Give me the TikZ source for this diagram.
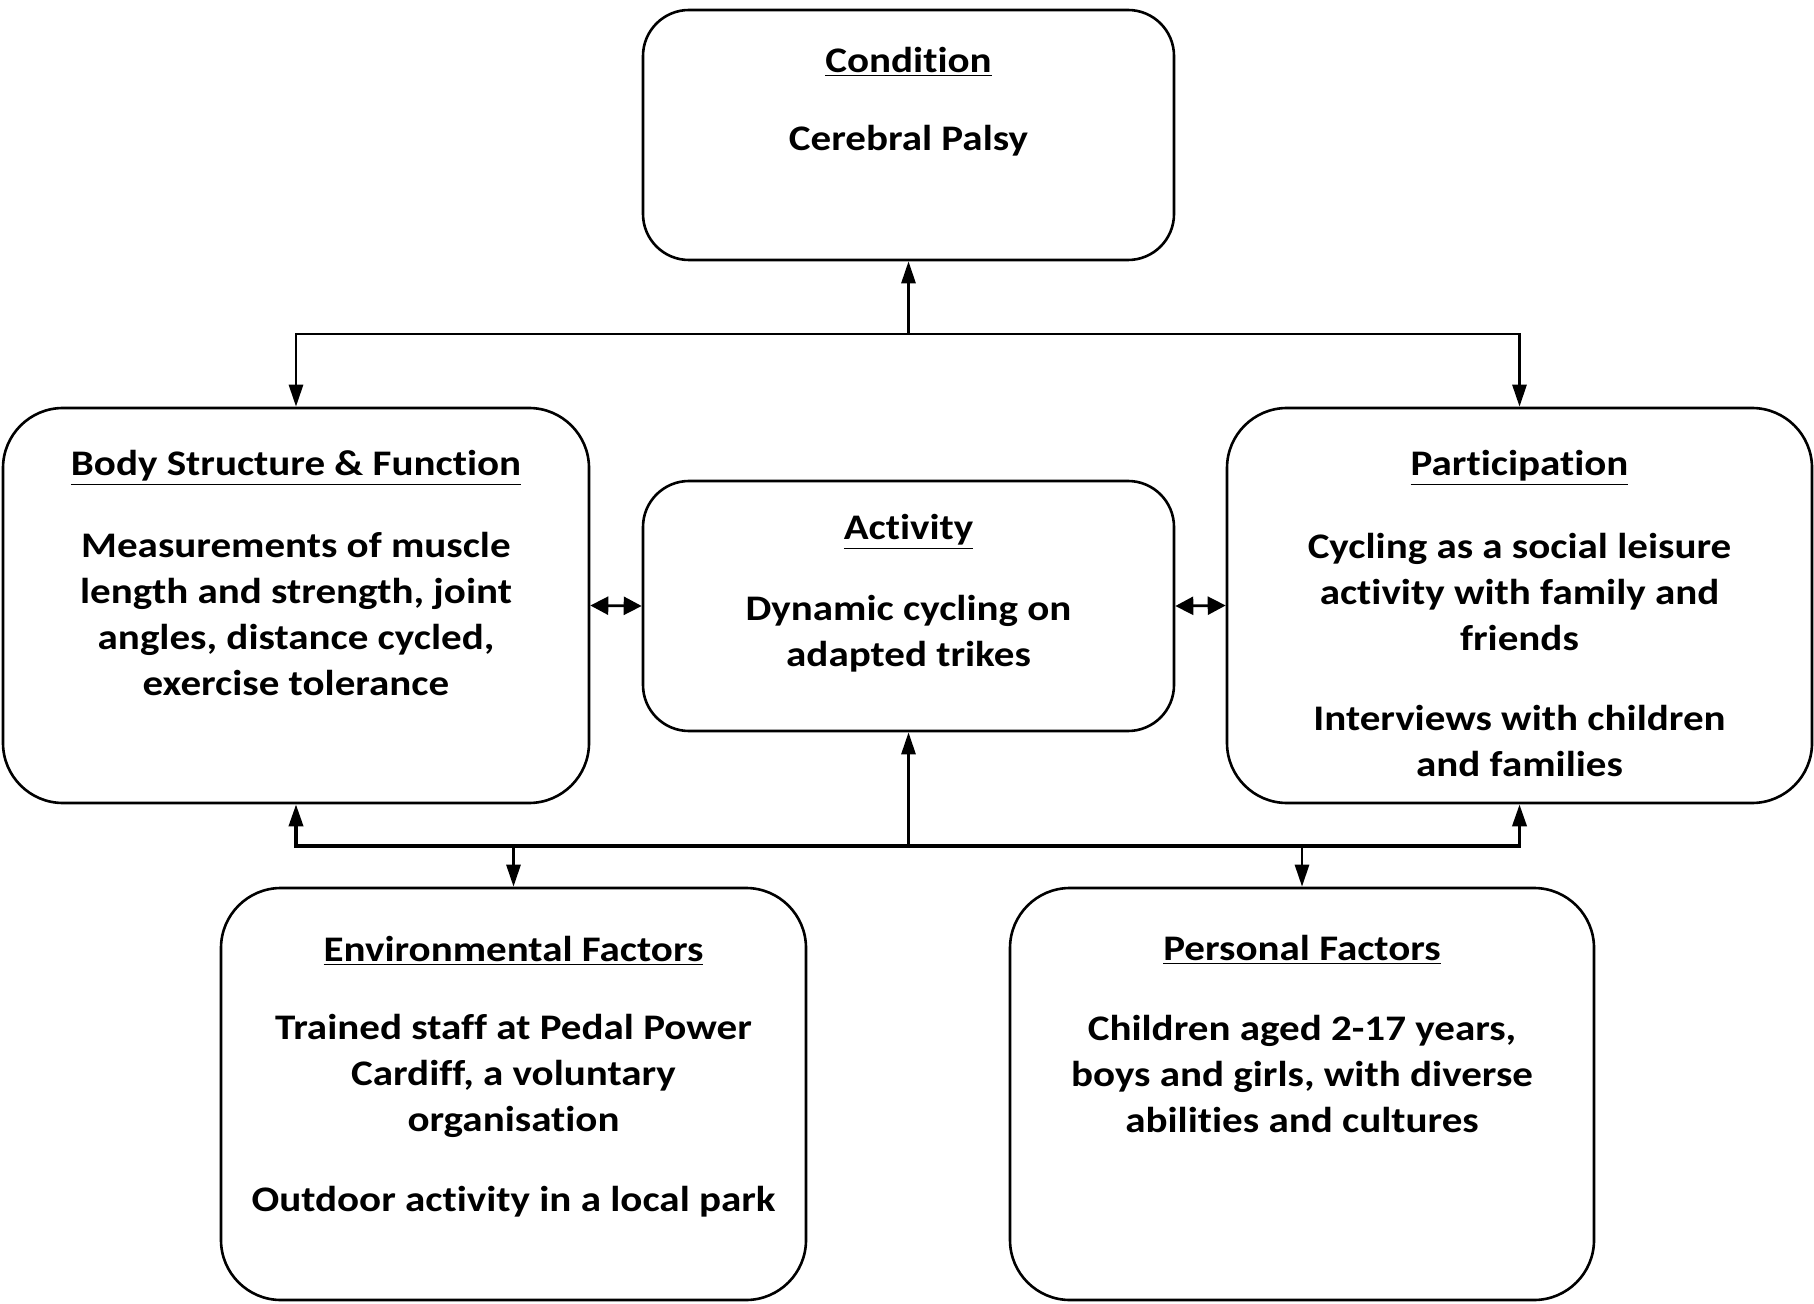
\documentclass[tikz,border=0pt]{standalone}
\usepackage{fontspec}
\setmainfont[FakeStretch=1.14,Ligatures=NoCommon]{Carlito}
\usetikzlibrary{arrows.meta}
\begin{document}
\begin{tikzpicture}[x=0.5pt,y=-0.5pt,
  box/.style={draw, line width=1.3pt, rounded corners=#1, inner sep=0pt},
  box/.default=23pt,
  txt/.style={align=center, inner sep=0pt, font=\fontsize{18}{23}\selectfont\bfseries},
  conn/.style={line width=1.4pt},
  arr/.style={conn, -{Triangle[length=11pt,width=7pt]}},
  dbl/.style={conn, {Triangle[length=9pt,width=9pt]}-{Triangle[length=9pt,width=9pt]}},
  ]
\useasboundingbox (0,0) rectangle (1814,1304);

% boxes
\node[box, minimum width=265.5pt, minimum height=125pt] (cond) at (908.5,135) {};
\node[box=30pt, minimum width=293pt, minimum height=197.5pt] (body) at (296,605.5) {};
\node[box, minimum width=265.5pt, minimum height=125pt] (act) at (908.5,606) {};
\node[box=30pt, minimum width=292.5pt, minimum height=197.5pt] (part) at (1519.5,605.5) {};
\node[box=30pt, minimum width=292.5pt, minimum height=206pt] (env) at (513.5,1094) {};
\node[box=30pt, minimum width=292pt, minimum height=206pt] (pers) at (1302,1094) {};

% texts
\node[txt] (condh) at (908.5,62) {\underline{Condition}};
\node[txt] (condt) at (908.5,141) {Cerebral Palsy};

\node[txt] (bodyh) at (296,468) {\underline{Body Structure \& Function}};
\node[txt] (bodyt) at (296,614) {Measurements of muscle\\length and strength, joint\\angles, distance cycled,\\exercise tolerance};

\node[txt] (acth) at (908.5,532) {\underline{Activity}};
\node[txt] (actt) at (908.5,634) {Dynamic cycling on\\adapted trikes};

\node[txt] (parth) at (1519.5,468) {\underline{Participation}};
\node[txt] (partt) at (1519.5,655) {Cycling as a social leisure\\activity with family and\\friends\\[17pt]Interviews with children\\and families};

\node[txt] (envh) at (513.5,951) {\underline{Environmental Factors}};
\node[txt] (envt) at (513.5,1116) {Trained staff at Pedal Power\\Cardiff, a voluntary\\organisation\\[17pt]Outdoor activity in a local park};

\node[txt] (persh) at (1302,950) {\underline{Personal Factors}};
\node[txt] (perst) at (1302,1074) {Children aged 2-17 years,\\boys and girls, with diverse\\abilities and cultures};

% top connectors
\coordinate (tj) at (908.5,334);
\draw[arr] (tj) -- (cond.south);
\draw[arr] (tj) -| (body.north);
\draw[arr] (tj) -| (part.north);

% side double arrows
\draw[dbl] (body.east) -- (act.west);
\draw[dbl] (act.east) -- (part.west);

% bottom connectors
\coordinate (bj) at (908.5,846);
\draw[arr] (bj) -- (act.south);
\draw[arr, line width=1.8pt] (bj) -| (body.south);
\draw[arr, line width=1.8pt] (bj) -| (part.south);
\draw[arr] (env.north |- bj) -- (env.north);
\draw[arr] (pers.north |- bj) -- (pers.north);
\end{tikzpicture}
\end{document}
